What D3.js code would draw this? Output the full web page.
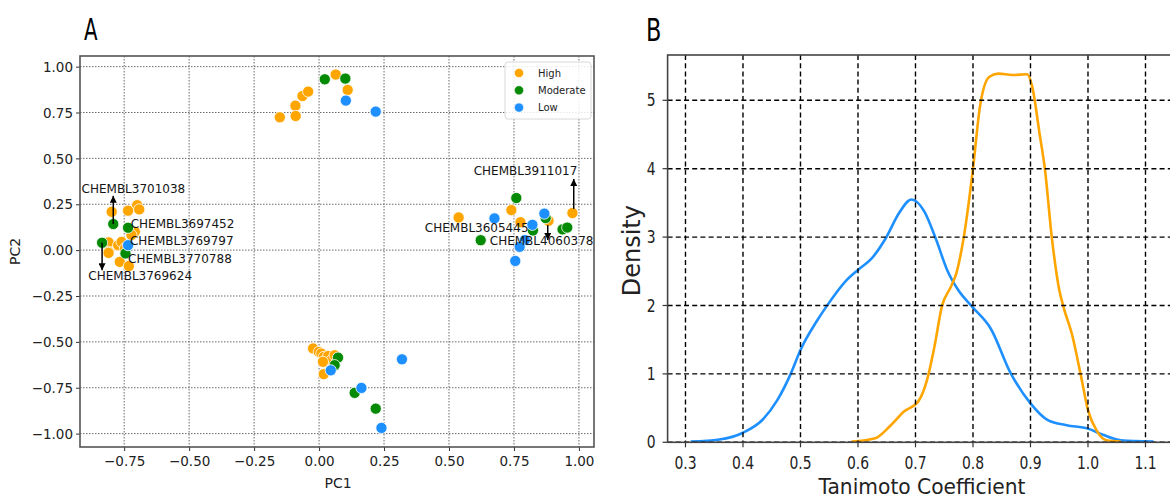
<!DOCTYPE html>
<html>
<head>
<meta charset="utf-8">
<script src="https://cdn.jsdelivr.net/npm/d3@7"></script>
<style>
  html, body { margin: 0; padding: 0; background: #fff; }
  svg { display: block; font-family: "DejaVu Sans", sans-serif; }
</style>
</head>
<body>
<svg id="fig" width="1170" height="500"></svg>
<script>
// ---------- Panel A: PCA scatter ----------
const pcaHigh = [
  [-0.151, 0.724], [-0.091, 0.787], [-0.090, 0.731], [-0.064, 0.840], [-0.042, 0.864],
  [0.064, 0.957], [0.110, 0.873],
  [-0.798, 0.209], [-0.700, 0.245], [-0.692, 0.222], [-0.735, 0.215], [-0.709, 0.100],
  [-0.722, 0.082], [-0.810, 0.042], [-0.810, -0.009], [-0.773, 0.027], [-0.760, 0.045],
  [-0.747, 0.009], [-0.767, -0.064], [-0.732, -0.087], [-0.810, -0.015],
  [0.537, 0.178], [0.740, 0.218], [0.775, 0.152], [0.883, 0.160], [0.975, 0.202],
  [-0.023, -0.536], [-0.001, -0.555], [0.009, -0.564], [0.018, -0.582], [0.035, -0.577],
  [0.048, -0.600], [0.060, -0.573], [0.015, -0.609], [0.018, -0.676]
];
const pcaModerate = [
  [0.022, 0.931], [0.101, 0.935],
  [-0.792, 0.142], [-0.735, 0.122], [-0.835, 0.040], [-0.745, -0.018],
  [0.759, 0.284], [0.823, 0.107], [0.872, 0.175], [0.937, 0.113], [0.955, 0.123], [0.622, 0.054],
  [0.073, -0.586], [0.060, -0.627], [0.137, -0.778], [0.218, -0.864]
];
const pcaLow = [
  [0.103, 0.815], [0.218, 0.755],
  [-0.735, 0.027],
  [0.675, 0.173], [0.821, 0.138], [0.867, 0.199], [0.792, 0.055], [0.772, 0.018], [0.755, -0.059],
  [0.045, -0.655], [0.163, -0.751], [0.240, -0.969], [0.319, -0.595]
];
const pcaGroups = ["High", "Moderate", "Low"];

// compound labels: [name, text x, text y]
const compoundLabels = [
  ["CHEMBL3701038", -0.914, 0.333],
  ["CHEMBL3697452", -0.725, 0.142],
  ["CHEMBL3769797", -0.728, 0.049],
  ["CHEMBL3770788", -0.735, -0.045],
  ["CHEMBL3769624", -0.888, -0.142],
  ["CHEMBL3911017", 0.595, 0.433],
  ["CHEMBL3605445", 0.407, 0.124],
  ["CHEMBL4060378", 0.657, 0.051]
];
// arrows: [x, y start, y end]
const compoundArrows = [
  [-0.792, 0.142, 0.296],
  [-0.835, 0.040, -0.110],
  [0.980, 0.225, 0.388],
  [0.880, 0.136, 0.055]
];
const pcaXTicks = [-0.75, -0.50, -0.25, 0.00, 0.25, 0.50, 0.75, 1.00];
const pcaYTicks = [-1.00, -0.75, -0.50, -0.25, 0.00, 0.25, 0.50, 0.75, 1.00];

// ---------- Panel B: Tanimoto density ----------
const kdeLowX = [0.309, 0.359, 0.40, 0.434, 0.46, 0.483, 0.50, 0.529, 0.548, 0.579, 0.60, 0.623,
  0.648, 0.672, 0.693, 0.715, 0.736, 0.755, 0.774, 0.80, 0.831, 0.865, 0.90, 0.931, 0.963, 1.00,
  1.026, 1.057, 1.114];
const kdeLowY = [0.01, 0.04, 0.14, 0.33, 0.62, 1.00, 1.35, 1.78, 2.02, 2.36, 2.52, 2.68,
  2.98, 3.36, 3.55, 3.38, 2.96, 2.52, 2.23, 1.97, 1.66, 1.02, 0.57, 0.32, 0.25, 0.20,
  0.11, 0.03, 0.01];
const kdeHighX = [0.589, 0.63, 0.655, 0.68, 0.705, 0.72, 0.733, 0.746, 0.762, 0.771, 0.784, 0.80,
  0.812, 0.828, 0.844, 0.869, 0.894, 0.903, 0.916, 0.925, 0.937, 0.95, 0.957, 0.973, 0.988,
  1.00, 1.016, 1.032, 1.057];
const kdeHighY = [0.01, 0.06, 0.23, 0.45, 0.60, 0.91, 1.40, 1.99, 2.28, 2.47, 3.00, 4.00,
  4.90, 5.34, 5.39, 5.37, 5.38, 5.20, 4.50, 4.00, 3.00, 2.23, 1.99, 1.55, 0.96,
  0.47, 0.16, 0.03, 0.01];
const kdeXTicks = [0.3, 0.4, 0.5, 0.6, 0.7, 0.8, 0.9, 1.0, 1.1];
const kdeYTicks = [0, 1, 2, 3, 4, 5];

const colors = { High: "#FFA500", Moderate: "#048a04", Low: "#1E8FFF" };

const svg = d3.select("#fig");
const fmtMinus = s => s.replace("-", "\u2212");

// ================= Panel A =================
{
  const L = 80, R = 594, T = 56, B = 447;
  const x = d3.scaleLinear().domain([-0.920, 1.058]).range([L, R]);
  const y = d3.scaleLinear().domain([-1.073, 1.058]).range([B, T]);
  const g = svg.append("g");

  // grid
  g.append("g").selectAll("line").data(pcaXTicks).join("line")
    .attr("x1", d => x(d)).attr("x2", d => x(d)).attr("y1", T).attr("y2", B)
    .attr("stroke", "#6a6a6a").attr("stroke-width", 1).attr("stroke-dasharray", "1.5,1.5");
  g.append("g").selectAll("line").data(pcaYTicks).join("line")
    .attr("y1", d => y(d)).attr("y2", d => y(d)).attr("x1", L).attr("x2", R)
    .attr("stroke", "#6a6a6a").attr("stroke-width", 1).attr("stroke-dasharray", "1.5,1.5");

  // axes
  const xAxis = d3.axisBottom(x).tickValues(pcaXTicks).tickSize(4).tickPadding(5)
    .tickFormat(d => fmtMinus(d3.format(".2f")(d)));
  const yAxis = d3.axisLeft(y).tickValues(pcaYTicks).tickSize(4).tickPadding(3)
    .tickFormat(d => fmtMinus(d3.format(".2f")(d)));
  const gx = g.append("g").attr("transform", `translate(0,${B})`).call(xAxis);
  const gy = g.append("g").attr("transform", `translate(${L},0)`).call(yAxis);
  [gx, gy].forEach(a => {
    a.select(".domain").remove();
    a.selectAll(".tick line").attr("stroke", "#333");
    a.selectAll(".tick text").attr("fill", "#222").style("font-size", "13.5px")
      .style("font-family", "'DejaVu Sans', sans-serif");
  });
  gy.selectAll(".tick text").attr("dy", "0.35em");

  // points
  const series = [["High", pcaHigh], ["Moderate", pcaModerate], ["Low", pcaLow]];
  series.forEach(([name, pts]) => {
    g.append("g").selectAll("circle").data(pts).join("circle")
      .attr("cx", d => x(d[0])).attr("cy", d => y(d[1])).attr("r", 5.6)
      .attr("fill", colors[name]).attr("stroke", "#fff").attr("stroke-width", 0.8);
  });

  // arrows
  const defs = svg.append("defs");
  defs.append("marker").attr("id", "ah").attr("viewBox", "0 0 10 10")
    .attr("refX", 10).attr("refY", 5).attr("markerWidth", 7).attr("markerHeight", 7)
    .attr("markerUnits", "userSpaceOnUse").attr("orient", "auto")
    .append("path").attr("d", "M0,0 L10,5 L0,10 Z").attr("fill", "#000");
  g.append("g").selectAll("line").data(compoundArrows).join("line")
    .attr("x1", d => x(d[0])).attr("x2", d => x(d[0]))
    .attr("y1", d => y(d[1])).attr("y2", d => y(d[2]))
    .attr("stroke", "#000").attr("stroke-width", 1.5).attr("marker-end", "url(#ah)");

  // labels
  g.append("g").selectAll("text").data(compoundLabels).join("text")
    .attr("x", d => x(d[1])).attr("y", d => y(d[2])).attr("dy", "0.36em")
    .attr("fill", "#151515").style("font-size", "12px").text(d => d[0]);

  // frame
  g.append("rect").attr("x", L).attr("y", T).attr("width", R - L).attr("height", B - T)
    .attr("fill", "none").attr("stroke", "#555").attr("stroke-width", 1.6);

  // legend
  const lg = g.append("g");
  lg.append("rect").attr("x", 505).attr("y", 62).attr("width", 86).attr("height", 57)
    .attr("rx", 3).attr("fill", "rgba(255,255,255,0.85)").attr("stroke", "#d8d8d8");
  pcaGroups.forEach((name, i) => {
    lg.append("circle").attr("cx", 519).attr("cy", 73 + i * 17.3).attr("r", 4.6)
      .attr("fill", colors[name]).attr("stroke", "#fff").attr("stroke-width", 0.6);
    lg.append("text").attr("x", 538).attr("y", 73 + i * 17.3).attr("dy", "0.35em")
      .attr("fill", "#222").style("font-size", "10px").text(name);
  });

  // axis titles
  g.append("text").attr("x", (L + R) / 2 + 1).attr("y", 488).attr("text-anchor", "middle")
    .attr("fill", "#222").style("font-size", "14px").text("PC1");
  g.append("text").attr("transform", `translate(20,${(T + B) / 2}) rotate(-90)`)
    .attr("text-anchor", "middle").attr("fill", "#222").style("font-size", "14px").text("PC2");
  g.append("text").attr("transform", "translate(84,39.5) scale(0.66,1)")
    .attr("fill", "#000").style("font-size", "30px").text("A");
}

// ================= Panel B =================
{
  const L = 667.6, R = 1172, T = 55, B = 442.3;
  const sx = 0.82;
  const x = d3.scaleLinear().domain([0.2689, 1.1461]).range([L, R]);
  const y = d3.scaleLinear().domain([0, 5.662]).range([B, T]);
  const g = svg.append("g");

  // ticks and labels
  g.append("g").selectAll("line").data(kdeXTicks).join("line")
    .attr("x1", d => x(d)).attr("x2", d => x(d)).attr("y1", B).attr("y2", B + 5)
    .attr("stroke", "#333").attr("stroke-width", 1.2);
  g.append("g").selectAll("line").data(kdeYTicks).join("line")
    .attr("y1", d => y(d)).attr("y2", d => y(d)).attr("x1", L - 5).attr("x2", L)
    .attr("stroke", "#333").attr("stroke-width", 1.2);
  g.append("g").selectAll("text").data(kdeXTicks).join("text")
    .attr("transform", d => `translate(${x(d)},${B + 27}) scale(${sx},1)`)
    .attr("text-anchor", "middle").attr("fill", "#222").style("font-size", "17px")
    .text(d => d3.format(".1f")(d));
  g.append("g").selectAll("text").data(kdeYTicks).join("text")
    .attr("transform", d => `translate(${L - 12},${y(d)}) scale(${sx},1)`)
    .attr("text-anchor", "end").attr("dy", "0.36em").attr("fill", "#222").style("font-size", "17px")
    .text(d => d);

  // curves
  const line = d3.line().x(d => x(d[0])).y(d => y(d[1])).curve(d3.curveMonotoneX);
  const lowPts = kdeLowX.map((v, i) => [v, kdeLowY[i]]);
  const highPts = kdeHighX.map((v, i) => [v, kdeHighY[i]]);
  g.append("path").attr("d", line(lowPts)).attr("fill", "none")
    .attr("stroke", colors.Low).attr("stroke-width", 2.6);
  g.append("path").attr("d", line(highPts)).attr("fill", "none")
    .attr("stroke", colors.High).attr("stroke-width", 2.6);

  // dashed grid on top
  g.append("g").selectAll("line").data(kdeXTicks).join("line")
    .attr("x1", d => x(d)).attr("x2", d => x(d)).attr("y1", T).attr("y2", B)
    .attr("stroke", "#000").attr("stroke-width", 1.4).attr("stroke-dasharray", "5,3.2");
  g.append("g").selectAll("line").data(kdeYTicks).join("line")
    .attr("y1", d => y(d)).attr("y2", d => y(d)).attr("x1", L).attr("x2", R)
    .attr("stroke", "#000").attr("stroke-width", 1.4).attr("stroke-dasharray", "5,3.2");

  // frame
  g.append("rect").attr("x", L).attr("y", T).attr("width", R - L).attr("height", B - T)
    .attr("fill", "none").attr("stroke", "#444").attr("stroke-width", 1.6);

  // titles
  g.append("text").attr("transform", `translate(922,494) scale(0.92,1)`)
    .attr("text-anchor", "middle").attr("fill", "#222").style("font-size", "22px")
    .text("Tanimoto Coefficient");
  g.append("text").attr("transform", `translate(640,${(T + B) / 2 + 2}) rotate(-90)`)
    .attr("text-anchor", "middle").attr("fill", "#222").style("font-size", "24px").text("Density");
  g.append("text").attr("transform", "translate(646,40.5) scale(0.7,1)")
    .attr("fill", "#000").style("font-size", "32px").text("B");
}
</script>
</body>
</html>
